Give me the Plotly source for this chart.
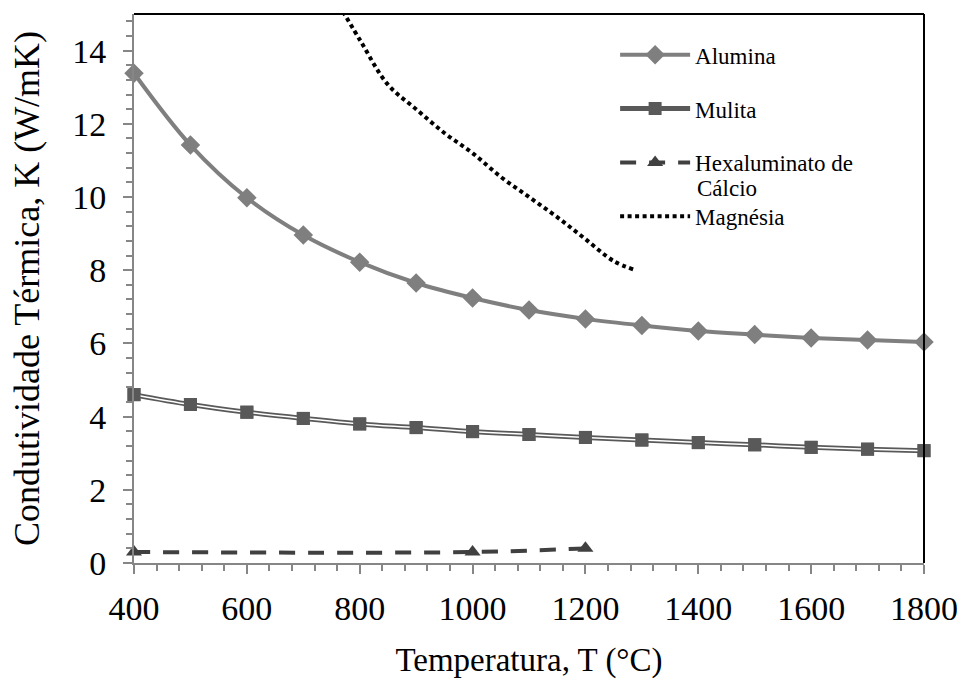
import plotly.graph_objects as go

# Data
temp_full = [400, 500, 600, 700, 800, 900, 1000, 1100, 1200, 1300, 1400, 1500, 1600, 1700, 1800]
alumina = [13.38, 11.42, 9.98, 8.96, 8.22, 7.65, 7.24, 6.91, 6.67, 6.49, 6.34, 6.24, 6.15, 6.09, 6.04]
mulita = [4.60, 4.33, 4.12, 3.95, 3.80, 3.70, 3.59, 3.51, 3.43, 3.36, 3.29, 3.23, 3.16, 3.11, 3.07]

temp_hexa = [400, 1000, 1200]
hexa = [0.30, 0.30, 0.40]

temp_mag = [750, 800, 850, 900, 950, 1000, 1050, 1100, 1150, 1200, 1250, 1285]
magnesia = [15.6, 14.3, 13.07, 12.4, 11.75, 11.2, 10.55, 10.0, 9.45, 8.85, 8.25, 8.02]

FONT = "Liberation Serif"
AXIS_GRAY = "#868686"

fig = go.Figure()

fig.add_trace(go.Scatter(
    x=temp_full, y=alumina, name="Alumina", legendgroup="a",
    mode="lines+markers", line=dict(color="#7f7f7f", width=4, shape="spline"),
    marker=dict(symbol="diamond", size=15, color="#7f7f7f"), cliponaxis=False))

fig.add_trace(go.Scatter(
    x=temp_full, y=mulita, name="Mulita", legendgroup="b",
    mode="lines+markers", line=dict(color="#595959", width=5, shape="spline"),
    marker=dict(symbol="square", size=13, color="#595959"), cliponaxis=False))
fig.add_trace(go.Scatter(
    x=temp_full, y=mulita, name="Mulita", legendgroup="b", showlegend=False,
    mode="lines", line=dict(color="white", width=1.5, shape="spline"),
    hoverinfo="skip"))
fig.add_trace(go.Scatter(
    x=temp_full, y=mulita, name="Mulita", legendgroup="b", showlegend=False,
    mode="markers", marker=dict(symbol="square", size=13, color="#595959"),
    cliponaxis=False, hoverinfo="skip"))

fig.add_trace(go.Scatter(
    x=temp_hexa, y=hexa, name="Hexaluminato de", legendgroup="c",
    mode="lines+markers", line=dict(color="#404040", width=4, dash="16px,13px", shape="spline"),
    marker=dict(symbol="triangle-up", size=14, color="#404040"), cliponaxis=False))

fig.add_trace(go.Scatter(
    x=temp_mag, y=magnesia, name="Magnésia", legendgroup="d",
    mode="lines", line=dict(color="black", width=4, dash="4px,3.5px", shape="spline")))

axis_common = dict(
    showline=True, linecolor=AXIS_GRAY, linewidth=2,
    ticks="outside", ticklen=9, tickwidth=2, tickcolor=AXIS_GRAY,
    showgrid=False, zeroline=False, automargin=False,
    tickfont=dict(family=FONT, size=34, color="black"),
)

fig.update_layout(
    width=962, height=679,
    margin=dict(l=134, r=38, t=14, b=116),
    paper_bgcolor="white", plot_bgcolor="white",
    font=dict(family=FONT, color="black"),
    xaxis=dict(range=[400, 1800], dtick=200, tick0=400, ticklabelstandoff=5,
               minor=dict(dtick=40, ticks="outside", ticklen=6, tickwidth=2, tickcolor=AXIS_GRAY),
               title=dict(text="Temperatura, T (°C)", font=dict(family=FONT, size=33), standoff=25),
               **axis_common),
    yaxis=dict(range=[0, 15], dtick=2, tick0=0, ticklabelstandoff=10,
               minor=dict(dtick=0.4, ticks="outside", ticklen=6, tickwidth=2, tickcolor=AXIS_GRAY),
               title=dict(text="Condutividade Térmica, K (W/mK)", font=dict(family=FONT, size=36), standoff=22),
               **axis_common),
    legend=dict(x=0.609, y=0.965, xanchor="left", yanchor="top",
                font=dict(family=FONT, size=23, color="black"),
                bgcolor="rgba(0,0,0,0)", tracegroupgap=21, itemwidth=70),
    annotations=[
        dict(text="Cálcio", xref="paper", yref="paper", x=(695 - 134) / 790, y=1 - (188 - 14) / 549,
             xanchor="left", yanchor="middle", showarrow=False,
             font=dict(family=FONT, size=23, color="black")),
    ],
    shapes=[
        dict(type="line", xref="paper", yref="paper", x0=0, x1=1, y0=1, y1=1,
             line=dict(color="black", width=2)),
        dict(type="line", xref="paper", yref="paper", x0=1, x1=1, y0=0, y1=1,
             line=dict(color="black", width=2)),
    ],
)

fig.write_html("out.html")
